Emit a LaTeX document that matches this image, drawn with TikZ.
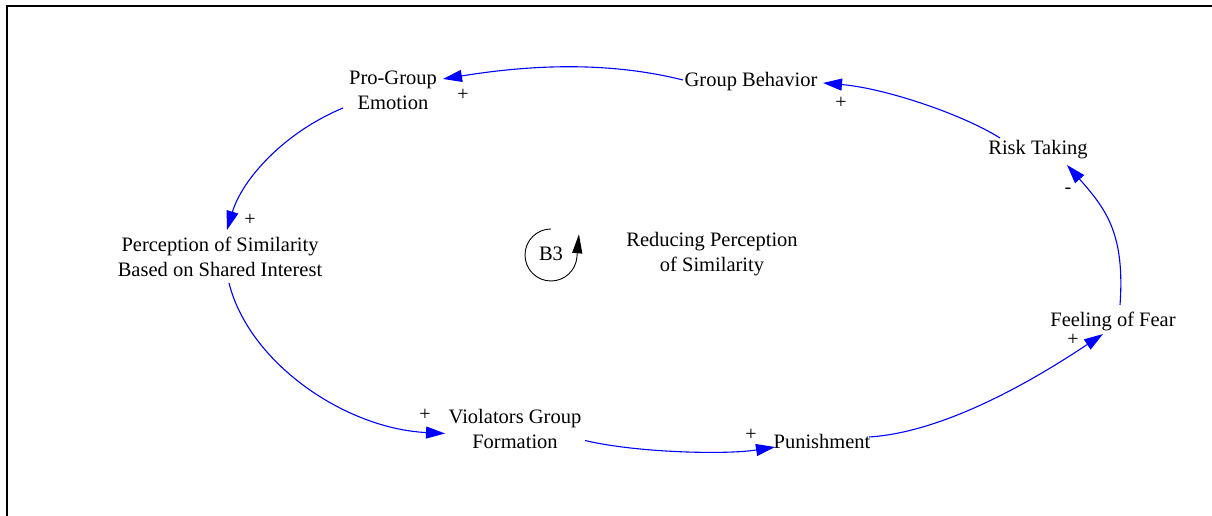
\documentclass[tikz,border=0pt]{standalone}
\usepackage{fontspec}
\setmainfont{Liberation Serif}
\newfontfamily\cldserif{Liberation Serif}
\usetikzlibrary{arrows.meta}
\definecolor{linkblue}{RGB}{0,0,255}
\begin{document}
\begin{tikzpicture}[x=1pt,y=1pt,
  var/.style={align=center,inner sep=0pt,font=\cldserif\fontsize{20.5}{25}\selectfont},
  pol/.style={inner sep=0pt,font=\cldserif\fontsize{20}{22}\selectfont},
  link/.style={draw=linkblue,line width=1.1pt,-{Triangle[length=19pt,width=12pt]},fill=none},
]
\useasboundingbox (0,0) rectangle (1212,516);
% frame
\draw[line width=2pt] (7,0) -- (7,510) -- (1212,510);

% variables
\node[var] (pg)  at (393,426) {Pro-Group\\Emotion};
\node[var] (gb)  at (751,434) {Group Behavior};
\node[var] (rt)  at (1038,366) {Risk Taking};
\node[var] (per) at (220,259) {Perception of Similarity\\Based on Shared Interest};
\node[var] (ff)  at (1113,195) {Feeling of Fear};
\node[var] (vg)  at (515,87) {Violators Group\\Formation};
\node[var] (pun) at (822,75) {Punishment};
\node[var] (red) at (712,262) {Reducing Perception\\of Similarity};

% loop marker
\node[var] (b3) at (551,262) {B3};
\draw[line width=0.9pt] ([shift={(0,25)}]b3.center) arc[start angle=90,end angle=355,radius=26]
  coordinate (b3e);
\draw[line width=0.9pt,-{Triangle[length=19pt,width=10pt]}] (b3e) -- ++(2,23);

% causal links
\draw[link] ([shift={(-68,2)}]gb.center) .. controls +(-80,20) and +(80,13) .. ([shift={(50,11)}]pg.center);
\draw[link] ([shift={(-38,12)}]rt.center) .. controls +(-40,25) and +(60,-5) .. ([shift={(72,-1)}]gb.center);
\draw[link] ([shift={(7,16)}]ff.center) .. controls +(5,70) and +(40,-45) .. ([shift={(29,-15)}]rt.center);
\draw[link] ([shift={(47,4)}]pun.center) .. controls +(80,5) and +(-60,-40) .. ([shift={(-10,-13)}]ff.center);
\draw[link] ([shift={(70,-11.5)}]vg.center) .. controls +(50,-12) and +(-50,-8) .. ([shift={(-47,-6)}]pun.center);
\draw[link] ([shift={(9,-26)}]per.center) .. controls +(20,-80) and +(-100,5) .. ([shift={(-70,-4.5)}]vg.center);
\draw[link] ([shift={(-50,-18)}]pg.center) .. controls +(-60,-25) and +(15,50) .. ([shift={(7,27)}]per.center);

% polarities
\node[pol] (p1) at (463,421) {+};
\node[pol] (p2) at (841,413) {+};
\node[pol] (p3) at (1068,325) {-};
\node[pol] (p4) at (1073,176) {+};
\node[pol] (p5) at (751,81) {+};
\node[pol] (p6) at (425,101) {+};
\node[pol] (p7) at (250,296) {+};
\end{tikzpicture}
\end{document}
